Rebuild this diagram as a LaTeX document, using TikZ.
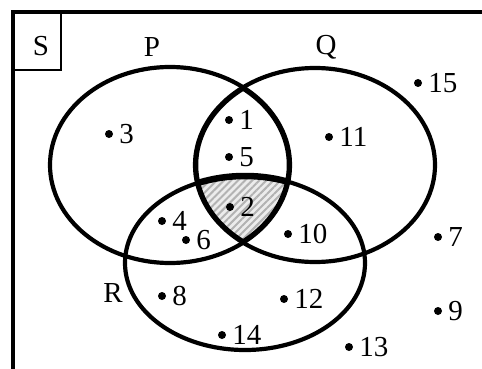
\documentclass[tikz,border=0pt]{standalone}
\usepackage{fontspec}
\setmainfont{Liberation Serif}
\usepackage{tikz}
\usetikzlibrary{positioning, patterns.meta}
\tikzset{
  setline/.style={line width=4.2pt},
  rim/.style={line width=6.5pt},
  elem/.style={circle, fill=black, inner sep=0pt, minimum size=8pt},
  num/.style={inner sep=1pt, font=\fontsize{29}{30}\selectfont},
  setname/.style={inner sep=0pt, font=\fontsize{29}{30}\selectfont},
  hatch/.style={pattern={Lines[angle=45, distance=5pt, line width=2pt]},
                pattern color=gray!60},
}

\begin{document}
\begin{tikzpicture}[x=1pt, y=-1pt]
      \useasboundingbox (0,0) rectangle (482,369);
      \clip (0,0) rectangle (482,369);

      % Set centres
      \coordinate (cP) at (170,165);
      \coordinate (cQ) at (315,165);
      \coordinate (cR) at (245,263);

      % Universal set frame and its label box
      \draw[line width=4.8pt] (13,400) -- (13,12) -- (500,12);
      \draw[line width=1.2pt] (13,70) -| (61,12);
      \node[setname] (S) at (41,46) {S};

      % Shaded region P n Q n R
      \begin{scope}
        \clip (cP) ellipse [x radius=120pt, y radius=98pt];
        \clip (cQ) ellipse [x radius=120pt, y radius=97pt];
        \fill[gray!15] (cR) ellipse [x radius=120pt, y radius=87pt];
        \fill[hatch] (cR) ellipse [x radius=120pt, y radius=87pt];
        \draw[rim] (cP) ellipse [x radius=120pt, y radius=98pt];
        \draw[rim] (cQ) ellipse [x radius=120pt, y radius=97pt];
        \draw[rim] (cR) ellipse [x radius=120pt, y radius=87pt];
      \end{scope}

      % Sets
      \draw[setline] (cP) ellipse [x radius=120pt, y radius=98pt];
      \draw[setline] (cQ) ellipse [x radius=120pt, y radius=97pt];
      \draw[setline] (cR) ellipse [x radius=120pt, y radius=87pt];
      \node[setname] (P) at (152,47) {P};
      \node[setname] (Q) at (326,47) {Q};
      \node[setname] (R) at (113,293) {R};

      % Elements
      \node[elem] (e3) at (109,134) {};
      \node[num, right=5pt of e3] (l3) {3};
      \node[elem] (e1) at (229,120) {};
      \node[num, right=5pt of e1] (l1) {1};
      \node[elem] (e5) at (229,157) {};
      \node[num, right=5pt of e5] (l5) {5};
      \node[elem] (e2) at (230,207) {};
      \node[num, right=5pt of e2] (l2) {2};
      \node[elem] (e11) at (329,137) {};
      \node[num, right=5pt of e11] (l11) {11};
      \node[elem] (e15) at (418,83) {};
      \node[num, right=5pt of e15] (l15) {15};
      \node[elem] (e4) at (162,221) {};
      \node[num, right=5pt of e4] (l4) {4};
      \node[elem] (e6) at (186,240) {};
      \node[num, right=5pt of e6] (l6) {6};
      \node[elem] (e10) at (288,234) {};
      \node[num, right=5pt of e10] (l10) {10};
      \node[elem] (e7) at (438,237) {};
      \node[num, right=5pt of e7] (l7) {7};
      \node[elem] (e8) at (162,296) {};
      \node[num, right=5pt of e8] (l8) {8};
      \node[elem] (e12) at (284,299) {};
      \node[num, right=5pt of e12] (l12) {12};
      \node[elem] (e9) at (438,311) {};
      \node[num, right=5pt of e9] (l9) {9};
      \node[elem] (e14) at (222,335) {};
      \node[num, right=5pt of e14] (l14) {14};
      \node[elem] (e13) at (349,347) {};
      \node[num, right=5pt of e13] (l13) {13};
\end{tikzpicture}
\end{document}
